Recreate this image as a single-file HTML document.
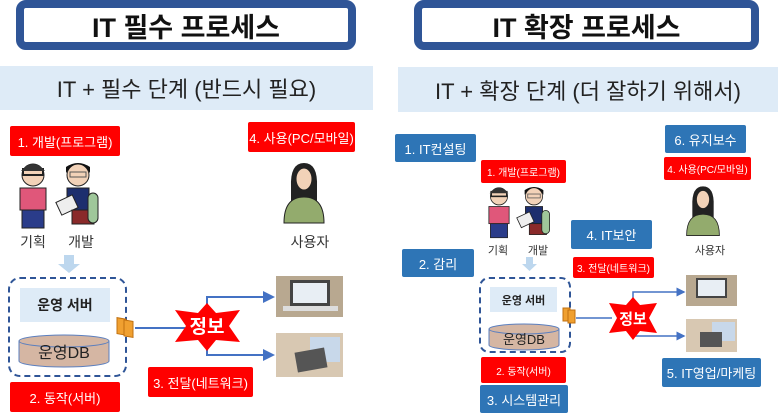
<!DOCTYPE html>
<html><head><meta charset="utf-8">
<style>
body{margin:0;width:778px;height:413px;background:#fff;position:relative;overflow:hidden;font-family:"Liberation Sans","Noto Sans CJK KR",sans-serif}
.a{position:absolute;box-sizing:border-box;display:flex;align-items:center;justify-content:center;white-space:nowrap}
.t{border:8px solid #2f5597;border-radius:10px;background:#fff;font-weight:bold;font-size:27px;color:#111}
.b{background:#deebf7;font-size:22px;color:#222}
.r{background:#ff0000;color:#fff;font-size:13px;border-radius:2px}
.r2{background:#ff0000;color:#fff;font-size:10px;border-radius:2px}
.bl{background:#2e75b6;color:#fff;font-size:13px;border-radius:2px}
.lb{font-size:14px;color:#333}
.lb2{font-size:11px;color:#333}
.dash{border:2px dashed #2f5597;border-radius:12px}
.srv{background:#deebf7;font-weight:bold;color:#222}
</style></head><body>
<!-- LEFT -->
<div class="a t" style="left:16px;top:0;width:340px;height:50px">IT 필수 프로세스</div>
<div class="a b" style="left:0;top:66px;width:373px;height:44px">IT + 필수 단계 (반드시 필요)</div>
<div class="a r" style="left:10px;top:126px;width:110px;height:30px">1. 개발(프로그램)</div>
<div class="a r" style="left:248px;top:122px;width:107px;height:30px">4. 사용(PC/모바일)</div>
<div class="a lb" style="left:18px;top:232px;width:30px;height:20px">기획</div>
<div class="a lb" style="left:66px;top:232px;width:30px;height:20px">개발</div>
<div class="a lb" style="left:290px;top:232px;width:40px;height:20px">사용자</div>
<div class="a dash" style="left:8px;top:277px;width:119px;height:100px"></div>
<div class="a srv" style="left:20px;top:288px;width:90px;height:34px;font-size:14px">운영 서버</div>
<div class="a r" style="left:148px;top:367px;width:105px;height:30px">3. 전달(네트워크)</div>
<div class="a r" style="left:10px;top:382px;width:110px;height:30px">2. 동작(서버)</div>

<!-- RIGHT -->
<div class="a t" style="left:414px;top:0;width:345px;height:50px">IT 확장 프로세스</div>
<div class="a b" style="left:398px;top:67px;width:380px;height:45px">IT + 확장 단계 (더 잘하기 위해서)</div>
<div class="a bl" style="left:395px;top:134px;width:81px;height:28px">1. IT컨설팅</div>
<div class="a r2" style="left:481px;top:160px;width:85px;height:23px">1. 개발(프로그램)</div>
<div class="a bl" style="left:665px;top:125px;width:81px;height:28px">6. 유지보수</div>
<div class="a r2" style="left:664px;top:157px;width:87px;height:23px">4. 사용(PC/모바일)</div>
<div class="a bl" style="left:571px;top:220px;width:81px;height:29px">4. IT보안</div>
<div class="a bl" style="left:402px;top:249px;width:72px;height:28px">2. 감리</div>
<div class="a r2" style="left:573px;top:257px;width:81px;height:21px">3. 전달(네트워크)</div>
<div class="a lb2" style="left:486px;top:242px;width:24px;height:15px">기획</div>
<div class="a lb2" style="left:526px;top:242px;width:24px;height:15px">개발</div>
<div class="a lb2" style="left:695px;top:242px;width:30px;height:15px">사용자</div>
<div class="a dash" style="left:479px;top:277px;width:92px;height:76px;border-radius:10px"></div>
<div class="a srv" style="left:490px;top:287px;width:67px;height:25px;font-size:11px">운영 서버</div>
<div class="a r2" style="left:481px;top:357px;width:85px;height:26px">2. 동작(서버)</div>
<div class="a bl" style="left:480px;top:385px;width:88px;height:28px">3. 시스템관리</div>
<div class="a bl" style="left:662px;top:358px;width:99px;height:29px">5. IT영업/마케팅</div>

<svg width="778" height="413" style="position:absolute;left:0;top:0" xmlns="http://www.w3.org/2000/svg">
<defs><marker id="ar" markerWidth="6" markerHeight="6" refX="5" refY="3" orient="auto"><path d="M0,0L6,3L0,6z" fill="#4472c4"/></marker>
<g id="man1"><circle cx="0" cy="12" r="11" fill="#f2d2b8" stroke="#222"/><rect x="-10" y="6" width="20" height="6" fill="none" stroke="#222" stroke-width="2"/><path d="M-12,8 Q0,-6 12,8" fill="#333"/><rect x="-13" y="25" width="26" height="22" fill="#e0577a" stroke="#222"/><rect x="-11" y="47" width="22" height="18" fill="#2a3c8a" stroke="#222"/></g>
<g id="man2"><circle cx="0" cy="12" r="11" fill="#f2d2b8" stroke="#222"/><path d="M-12,10 Q0,-8 12,10 L12,4 Q0,-4 -12,4z" fill="#111"/><rect x="-8" y="9" width="16" height="5" fill="none" stroke="#555"/><rect x="-11" y="25" width="22" height="22" fill="#1d2e6e" stroke="#222"/><rect x="-20" y="35" width="18" height="14" fill="#eee" stroke="#222" transform="rotate(-25 -11 42)"/><rect x="-6" y="47" width="22" height="14" fill="#8a2a2a" stroke="#222"/><rect x="10" y="30" width="10" height="30" rx="5" fill="#9fc79a" stroke="#222"/></g>
<g id="wom"><path d="M-13,22 Q-14,-2 0,-2 Q14,-2 13,22 L13,38 L-13,38z" fill="#222"/><ellipse cx="0" cy="14" rx="8" ry="11" fill="#f2d2b8" stroke="#222"/><path d="M-20,58 Q-20,32 0,32 Q20,32 20,58z" fill="#93ab6d" stroke="#222"/></g>
</defs>
<!-- left people -->
<use href="#man1" transform="translate(33,163)"/>
<use href="#man2" transform="translate(78,163)"/>
<use href="#wom" transform="translate(304,165)"/>
<!-- left arrow down -->
<path d="M64,255h10v9h6l-11,9l-11,-9h6z" fill="#bdd7ee"/>
<!-- DB -->
<path d="M19,341 v20 a45,6 0 0 0 90,0 v-20" fill="#d5b6a3" stroke="#5b7fbf"/>
<ellipse cx="64" cy="341" rx="45" ry="6" fill="#d5b6a3" stroke="#5b7fbf"/>
<text x="64" y="358" font-size="16" text-anchor="middle" fill="#222" font-family="Liberation Sans,Noto Sans CJK KR,sans-serif">운영DB</text>
<!-- orange -->
<rect x="117" y="318" width="9" height="16" fill="#f0a030" stroke="#c07010" transform="skewY(10) translate(0,-21)"/>
<rect x="124" y="320" width="9" height="16" fill="#f0a030" stroke="#c07010" transform="skewY(10) translate(0,-22)"/>
<line x1="135" y1="328" x2="185" y2="328" stroke="#4472c4" stroke-width="2"/>
<path d="M207,297V297" stroke="#4472c4"/>
<polyline points="207,310 207,297 273,297" fill="none" stroke="#4472c4" stroke-width="2" marker-end="url(#ar)"/>
<polyline points="207,345 207,355 273,355" fill="none" stroke="#4472c4" stroke-width="2" marker-end="url(#ar)"/>
<polygon points="207,303 216,313 240,310 229,326 240,342 216,340 207,351 198,340 175,342 186,326 175,310 198,313" fill="#ff0000"/>
<text x="207" y="333" font-size="19" font-weight="bold" text-anchor="middle" fill="#fff" font-family="Liberation Sans,Noto Sans CJK KR,sans-serif">정보</text>
<rect x="276" y="276" width="67" height="41" fill="#b8a890"/><rect x="290" y="280" width="40" height="26" fill="#444"/><rect x="293" y="283" width="34" height="20" fill="#e8eef4"/><rect x="283" y="306" width="55" height="5" fill="#ddd"/>
<rect x="276" y="333" width="67" height="44" fill="#d8c8b2"/><rect x="310" y="337" width="30" height="25" fill="#c8d8ea"/><rect x="296" y="350" width="30" height="20" fill="#555" transform="rotate(-10 311 360)"/>

<!-- right people -->
<use href="#man1" transform="translate(499,187) scale(0.78)"/>
<use href="#man2" transform="translate(534,187) scale(0.78)"/>
<use href="#wom" transform="translate(703,188) scale(0.82)"/>
<path d="M526,257h7v7h4l-7.5,7l-7.5,-7h4z" fill="#bdd7ee"/>
<path d="M489,329 v16 a35,5 0 0 0 70,0 v-16" fill="#d5b6a3" stroke="#5b7fbf"/>
<ellipse cx="524" cy="329" rx="35" ry="5" fill="#d5b6a3" stroke="#5b7fbf"/>
<text x="524" y="344" font-size="13" text-anchor="middle" fill="#222" font-family="Liberation Sans,Noto Sans CJK KR,sans-serif">운영DB</text>
<rect x="563" y="308" width="7" height="13" fill="#f0a030" stroke="#c07010"/>
<rect x="568" y="310" width="7" height="13" fill="#f0a030" stroke="#c07010"/>
<line x1="576" y1="318" x2="612" y2="318" stroke="#4472c4" stroke-width="1.5"/>
<polyline points="633,300 633,292 684,292" fill="none" stroke="#4472c4" stroke-width="1.5" marker-end="url(#ar)"/>
<polyline points="633,336 633,336 684,336" fill="none" stroke="#4472c4" stroke-width="1.5" marker-end="url(#ar)"/>
<line x1="633" y1="330" x2="633" y2="336" stroke="#4472c4" stroke-width="1.5"/>
<polygon points="633,297 640,305 657,303 649,318 657,333 640,331 633,340 626,331 609,333 617,318 609,303 626,305" fill="#ff0000"/>
<text x="633" y="324" font-size="15" font-weight="bold" text-anchor="middle" fill="#fff" font-family="Liberation Sans,Noto Sans CJK KR,sans-serif">정보</text>
<rect x="686" y="275" width="51" height="31" fill="#b8a890"/><rect x="696" y="278" width="31" height="20" fill="#444"/><rect x="698" y="280" width="27" height="16" fill="#e8eef4"/>
<rect x="686" y="319" width="51" height="33" fill="#d8c8b2"/><rect x="712" y="322" width="23" height="19" fill="#c8d8ea"/><rect x="700" y="332" width="22" height="15" fill="#555"/>
</svg>
</body></html>
